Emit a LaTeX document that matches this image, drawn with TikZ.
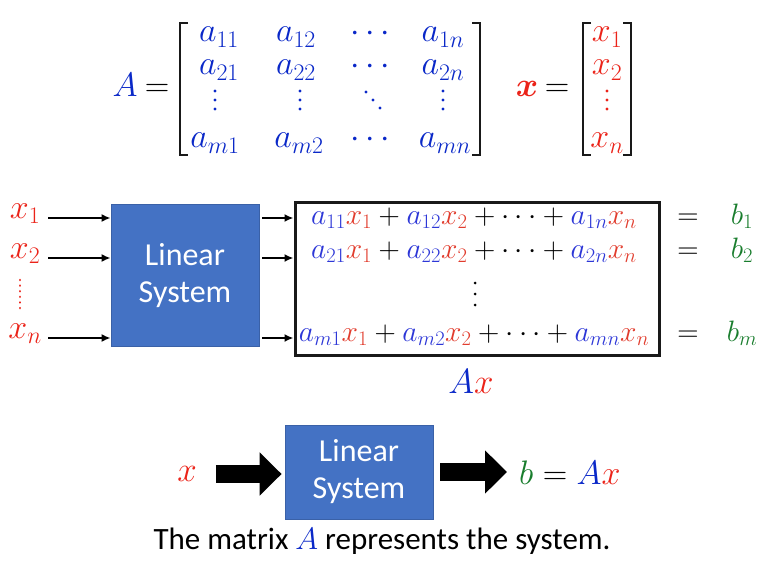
\RequirePackage{fix-cm}
\documentclass[tikz,border=0pt]{standalone}
\usepackage{amsmath}
\usepackage[no-math]{fontspec}
\setmainfont{Carlito}
\usetikzlibrary{arrows.meta}
\definecolor{mblue}{RGB}{10,40,200}
\definecolor{mred}{RGB}{235,35,25}
\definecolor{eblue}{RGB}{45,55,215}
\definecolor{ered}{RGB}{225,60,45}
\definecolor{mgreen}{RGB}{25,125,45}
\definecolor{boxblue}{RGB}{68,114,196}
\newcommand\cB[1]{{\color{eblue}#1}}
\newcommand\cR[1]{{\color{ered}#1}}
\begin{document}
\begin{tikzpicture}[x=1pt,y=-1pt,
  mat/.style={inner sep=0pt, anchor=base, text=mblue, font=\fontsize{34}{40}\selectfont},
  lab/.style={inner sep=0pt, anchor=base, text=mred, font=\fontsize{34}{40}\selectfont},
  eqs/.style={inner sep=0pt, anchor=base, font=\fontsize{29.5}{34}\selectfont},
  brk/.style={line width=2.2pt, black!90},
  sysbox/.style={fill=boxblue, draw=boxblue!85!black, line width=0.8pt, text=white,
    align=center, font=\fontsize{32}{37}\selectfont, inner sep=0pt},
  tarr/.style={line width=2.2pt, -{Latex[length=9pt,width=8pt]}},
  bigarr/.style={line width=18pt, -{Triangle[length=22pt,width=42pt]}}
]
\useasboundingbox (0,0) rectangle (767,564);
% ---------- top: matrix A ----------
\node[mat] (A) at (125,97) {$A$};
\node[mat,text=black] (eqA) at (157,97) {$=$};
\draw[brk] (188,23) -- (180,23) -- (180,155) -- (188,155);
\draw[brk] (472,23) -- (480,23) -- (480,155) -- (472,155);
\node[mat] (a11) at (219,42) {$a_{11}$};
\node[mat] (a12) at (296,42) {$a_{12}$};
\node[mat] (c1) at (373,42) {$\cdots$};
\node[mat] (a1n) at (443,42) {$a_{1n}$};
\node[mat] (a21) at (219,75) {$a_{21}$};
\node[mat] (a22) at (296,75) {$a_{22}$};
\node[mat] (c2) at (373,75) {$\cdots$};
\node[mat] (a2n) at (443,75) {$a_{2n}$};
\node[mat] (am1) at (215,148) {$a_{m1}$};
\node[mat] (am2) at (299,148) {$a_{m2}$};
\node[mat] (c4) at (373,148) {$\cdots$};
\node[mat] (amn) at (445,148) {$a_{mn}$};
\foreach \px in {215,300,443} \foreach \py in {91,100,109} \fill[mblue] (\px,\py) circle (1.7pt);
\foreach \px/\py in {366/92,373/100,380/108} \fill[mblue] (\px,\py) circle (1.7pt);
% ---------- top: vector x ----------
\node[mat,text=mred] (xv) at (527,97) {$\boldsymbol{x}$};
\node[mat,text=black] (eqx) at (557,97) {$=$};
\draw[brk] (591,23) -- (583,23) -- (583,155) -- (591,155);
\draw[brk] (623,23) -- (631,23) -- (631,155) -- (623,155);
\node[mat,text=mred] (v1) at (607,42) {$x_1$};
\node[mat,text=mred] (v2) at (607,75) {$x_2$};
\node[mat,text=mred] (vn) at (607,148) {$x_n$};
\foreach \py in {91,100,109} \fill[mred] (607,\py) circle (1.7pt);
% ---------- middle ----------
\node[lab] (x1) at (25,218) {$x_1$};
\node[lab] (x2) at (25,258) {$x_2$};
\node[lab] (xn) at (25,338) {$x_n$};
\draw[mred, line width=2.6pt, line cap=round, dash pattern=on 0.01pt off 5.6pt] (20,280) -- (20,311);
\node[sysbox, minimum width=148pt, minimum height=142pt] (sys1) at (185,275.5) {Linear\\System};
\node[draw=black!90, line width=3pt, minimum width=364pt, minimum height=153pt, inner sep=0pt] (eq) at (477,278.5) {};
\coordinate (i1) at (48,218);
\coordinate (i2) at (48,258);
\coordinate (i3) at (48,338);
\coordinate (o1) at (262,218);
\coordinate (o2) at (262,258);
\coordinate (o3) at (262,338);
\draw[tarr] (i1) -- (i1 -| sys1.west);
\draw[tarr] (i2) -- (i2 -| sys1.west);
\draw[tarr] (i3) -- (i3 -| sys1.west);
\draw[tarr] (o1) -- (o1 -| eq.west);
\draw[tarr] (o2) -- (o2 -| eq.west);
\draw[tarr] (o3) -- (o3 -| eq.west);
\node[eqs] (r1) at (474,224) {$\cB{a_{11}}\cR{x_1}+\cB{a_{12}}\cR{x_2}+\cdots+\cB{a_{1n}}\cR{x_n}$};
\node[eqs] (r2) at (474,258) {$\cB{a_{21}}\cR{x_1}+\cB{a_{22}}\cR{x_2}+\cdots+\cB{a_{2n}}\cR{x_n}$};
\node[eqs] (rm) at (474,341) {$\cB{a_{m1}}\cR{x_1}+\cB{a_{m2}}\cR{x_2}+\cdots+\cB{a_{mn}}\cR{x_n}$};
\foreach \py in {283,294,305} \fill[black] (475,\py) circle (1.5pt);
\node[eqs] (q1) at (688,224) {$=$};
\node[eqs] (q2) at (688,258) {$=$};
\node[eqs] (qm) at (688,341) {$=$};
\node[eqs,text=mgreen] (b1) at (742,224) {$b_1$};
\node[eqs,text=mgreen] (b2) at (742,258) {$b_2$};
\node[eqs,text=mgreen] (bm) at (742,341) {$b_m$};
\node[inner sep=0pt, anchor=base, font=\fontsize{35}{40}\selectfont] (Ax) at (471,393) {$\textcolor{mblue}{A}\textcolor{mred}{x}$};
% ---------- bottom ----------
\node[inner sep=0pt, text=mred, font=\fontsize{35}{40}\selectfont] (xb) at (187,474) {$x$};
\node[sysbox, minimum width=148pt, minimum height=94pt] (sys2) at (359,472) {Linear\\System};
\node[inner sep=0pt, anchor=base west, font=\fontsize{34}{40}\selectfont] (bx) at (519,484) {$\textcolor{mgreen}{b}=\textcolor{mblue}{A}\textcolor{mred}{x}$};
\draw[bigarr, shorten >=3pt] ([xshift=19pt]xb.east) -- (xb.east -| sys2.west);
\draw[bigarr, shorten >=12pt] ([xshift=7pt]sys2.east) -- (sys2.east -| bx.west);
\node[inner sep=0pt, anchor=base, font=\fontsize{31}{36}\selectfont] (cap) at (382,549) {The matrix \textcolor{mblue}{$A$} represents the system.};
\end{tikzpicture}
\end{document}
